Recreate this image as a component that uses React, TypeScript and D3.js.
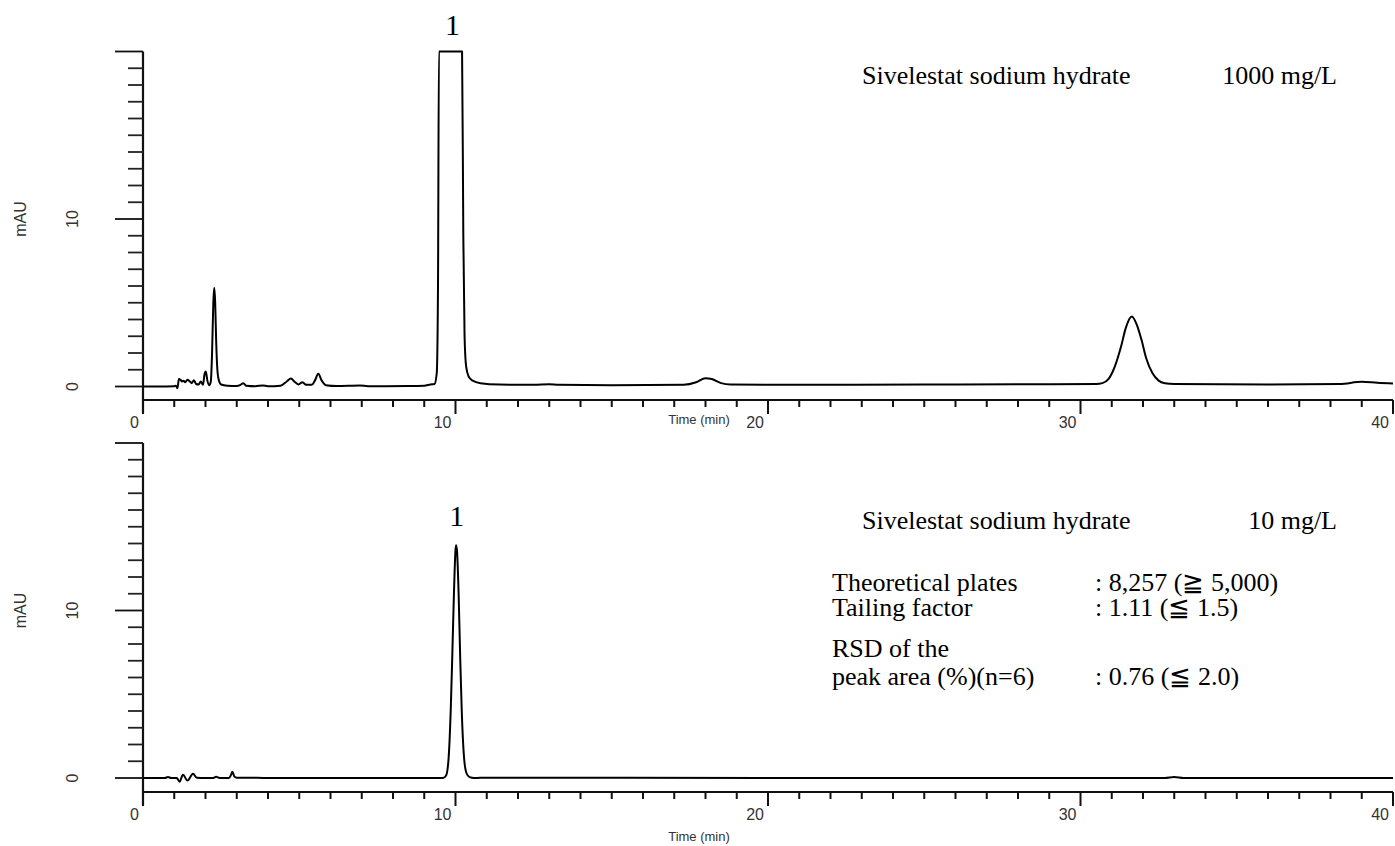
import React from "react";
import * as d3 from "d3";

// ---- data (time in min, absorbance in mAU) ----
const xTicksMajor = [0, 10, 20, 30, 40];
const yTickLabels = [0, 10];

const topTrace: [number, number][] = [
  [0, 0], [0.5, 0], [1.0, 0.02], [1.05, 0.05], [1.1, -0.1], [1.15, 0.45], [1.2, 0.4], [1.25, 0.3],
  [1.3, 0.35], [1.35, 0.25], [1.42, 0.4], [1.5, 0.3], [1.56, 0.2], [1.63, 0.38], [1.7, 0.15],
  [1.78, 0.12], [1.85, 0.3], [1.92, 0.1], [1.97, 0.75], [2.01, 0.9], [2.06, 0.35], [2.12, 0.08],
  [2.17, 0.3], [2.21, 2.0], [2.25, 5.0], [2.28, 5.9], [2.31, 5.0], [2.34, 2.8], [2.38, 1.0],
  [2.43, 0.35], [2.5, 0.12], [2.7, 0.05], [3.0, 0.03], [3.12, 0.1], [3.21, 0.2], [3.3, 0.05],
  [3.6, 0.02], [3.83, 0.06], [4.0, 0.02], [4.4, 0.05], [4.6, 0.3], [4.73, 0.48], [4.87, 0.25],
  [4.98, 0.12], [5.1, 0.26], [5.22, 0.1], [5.4, 0.1], [5.5, 0.35], [5.61, 0.76], [5.72, 0.35],
  [5.85, 0.08], [6.2, 0.03], [6.94, 0.06], [7.2, 0.02], [8.5, 0.03], [9.0, 0.05], [9.2, 0.12],
  [9.33, 0.15], [9.4, 0.8], [9.44, 6], [9.47, 20], [10.21, 20], [10.25, 9], [10.29, 3],
  [10.34, 1.2], [10.42, 0.6], [10.55, 0.35], [10.8, 0.2], [11.4, 0.12], [12.5, 0.1], [13.0, 0.14],
  [13.3, 0.1], [15, 0.08], [17.3, 0.1], [17.7, 0.25], [18.0, 0.5], [18.2, 0.45], [18.5, 0.2],
  [18.8, 0.12], [20, 0.1], [25, 0.12], [28, 0.13], [30.5, 0.15], [30.7, 0.2], [30.9, 0.45],
  [31.1, 1.2], [31.3, 2.4], [31.45, 3.5], [31.64, 4.18], [31.8, 3.7], [31.95, 2.8], [32.1, 1.7],
  [32.3, 0.8], [32.5, 0.35], [32.7, 0.2], [33, 0.15], [36, 0.12], [38.3, 0.15], [39.0, 0.28],
  [39.5, 0.22], [40, 0.18],
];

const bottomTrace: [number, number][] = [
  [0, 0], [0.7, 0], [0.8, 0.06], [0.9, 0], [1.08, 0], [1.17, -0.22], [1.28, 0.2], [1.42, -0.15],
  [1.6, 0.25], [1.72, 0.02], [2.0, 0], [2.25, 0], [2.34, 0.07], [2.45, 0], [2.75, 0], [2.82, 0.2],
  [2.86, 0.38], [2.92, 0.1], [3.0, 0.02], [3.3, 0.02], [4, 0], [9.6, 0], [9.7, 0.15], [9.78, 1.2],
  [9.85, 4.2], [9.9, 7.5], [9.95, 11], [10.0, 13.6], [10.02, 13.9], [10.05, 13.5], [10.1, 11],
  [10.15, 7.2], [10.2, 4], [10.27, 1.3], [10.35, 0.3], [10.45, 0.05], [10.6, 0], [11, 0.02],
  [20, 0], [32.7, 0], [33.0, 0.06], [33.3, 0], [40, 0],
];

const peakLabel = "1";
const compound = "Sivelestat sodium hydrate";
const concTop = "1000 mg/L";
const concBottom = "10 mg/L";
const statNames = ["Theoretical plates", "Tailing factor", "RSD of the", "peak area (%)(n=6)"];
const statValues = [": 8,257 (\u2267 5,000)", ": 1.11 (\u2266 1.5)", "", ": 0.76 (\u2266 2.0)"];

const W = 1395;
const H = 846;
const X0 = 143;
const X1 = 1393;
const SANS = "Arial, 'Liberation Sans', sans-serif";
const SERIF = "'Times New Roman', 'Liberation Serif', serif";

const x = d3.scaleLinear().domain([0, 40]).range([X0, X1]);

function Panel({ y20, y0, axisY, trace }: { y20: number; y0: number; axisY: number; trace: [number, number][] }) {
  const y = d3.scaleLinear().domain([0, 20]).range([y0, y20]);
  const line = d3
    .line<[number, number]>()
    .x((d) => x(d[0]))
    .y((d) => y(d[1]))
    .curve(d3.curveMonotoneX);
  const yMinor = d3.range(0, 21).filter((v) => v % 10 !== 0);
  const yMajor = [0, 10, 20];
  const xMinor = d3.range(0, 41).filter((v) => v % 10 !== 0);
  return (
    <g>
      {/* y axis */}
      <line x1={X0} x2={X0} y1={y20} y2={axisY + 13} stroke="#111" strokeWidth={2.2} />
      {yMajor.map((v) => (
        <line key={"ym" + v} x1={X0 - 28} x2={X0} y1={y(v)} y2={y(v)} stroke="#111" strokeWidth={1.8} />
      ))}
      {yMinor.map((v) => (
        <line key={"yn" + v} x1={X0 - 15} x2={X0} y1={y(v)} y2={y(v)} stroke="#222" strokeWidth={1.8} />
      ))}
      {yTickLabels.map((v) => (
        <text
          key={"yl" + v}
          transform={`translate(72,${y(v)}) rotate(-90)`}
          textAnchor="middle"
          dominantBaseline="central"
          fontFamily={SANS}
          fontSize={16}
          fill="#333"
        >
          {v}
        </text>
      ))}
      <text
        transform={`translate(20,${y(10)}) rotate(-90)`}
        textAnchor="middle"
        dominantBaseline="central"
        fontFamily={SANS}
        fontSize={16}
        fill="#333"
      >
        mAU
      </text>
      {/* x axis */}
      <line x1={X0} x2={X1} y1={axisY} y2={axisY} stroke="#111" strokeWidth={2.2} />
      {xMinor.map((v) => (
        <line key={"xn" + v} x1={x(v)} x2={x(v)} y1={axisY} y2={axisY + 7} stroke="#111" strokeWidth={2} />
      ))}
      {xTicksMajor.map((v) => (
        <line key={"xm" + v} x1={x(v)} x2={x(v)} y1={axisY} y2={axisY + 14} stroke="#111" strokeWidth={2} />
      ))}
      {xTicksMajor.map((v) => (
        <text
          key={"xl" + v}
          x={x(v) - 4}
          y={axisY + 27.5}
          textAnchor="end"
          fontFamily={SANS}
          fontSize={16}
          fill="#333"
        >
          {v}
        </text>
      ))}
      <path d={line(trace) || ""} fill="none" stroke="#000" strokeWidth={2} strokeLinejoin="round" />
    </g>
  );
}

const statY = [591, 616, 657, 685];

export default function App() {
  return (
    <svg
      width={W}
      height={H}
      viewBox={`0 0 ${W} ${H}`}
      style={{ position: "absolute", left: 0, top: 0, background: "#fff" }}
    >
      <rect x={0} y={0} width={W} height={H} fill="#fff" />
      <Panel y20={51.5} y0={386.5} axisY={400} trace={topTrace} />
      <Panel y20={443} y0={778} axisY={792} trace={bottomTrace} />

      {/* x axis titles */}
      <text x={699} y={424} textAnchor="middle" fontFamily={SANS} fontSize={13} fill="#333">
        Time (min)
      </text>
      <text x={699} y={841} textAnchor="middle" fontFamily={SANS} fontSize={13} fill="#333">
        Time (min)
      </text>

      {/* peak labels */}
      <text x={x(9.9)} y={35} textAnchor="middle" fontFamily={SERIF} fontSize={30} fill="#000">
        {peakLabel}
      </text>
      <text x={x(10.04)} y={526} textAnchor="middle" fontFamily={SERIF} fontSize={30} fill="#000">
        {peakLabel}
      </text>

      {/* annotations */}
      <g fontFamily={SERIF} fontSize={26} fill="#000">
        <text x={862} y={84}>{compound}</text>
        <text x={1337} y={84} textAnchor="end">{concTop}</text>
        <text x={862} y={529}>{compound}</text>
        <text x={1337} y={529} textAnchor="end">{concBottom}</text>
        {statNames.map((s, i) => (
          <text key={"sn" + i} x={832} y={statY[i]}>{s}</text>
        ))}
        {statValues.map((s, i) =>
          s ? (
            <text key={"sv" + i} x={1095} y={statY[i]}>{s}</text>
          ) : null
        )}
      </g>
    </svg>
  );
}
